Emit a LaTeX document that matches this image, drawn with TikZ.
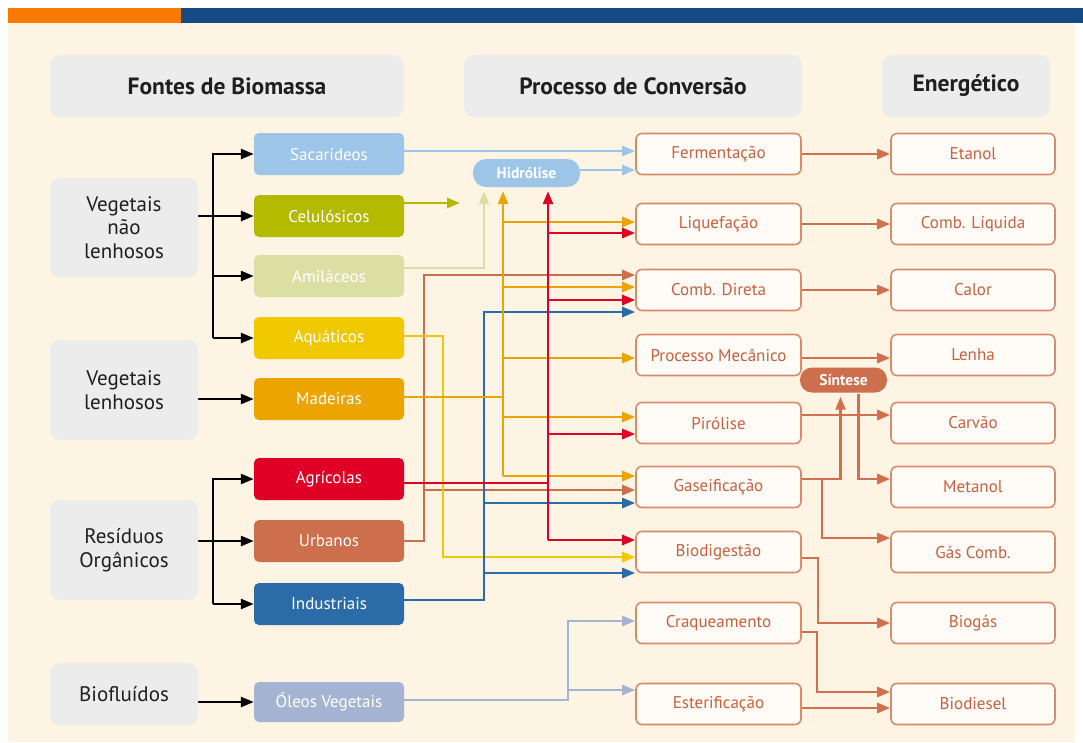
\documentclass[tikz,border=0pt]{standalone}
\usepackage{fontspec}
\setmainfont{PT Sans}
\usetikzlibrary{arrows.meta,calc}
\definecolor{cream}{HTML}{FDF4E3}
\definecolor{hdrgray}{HTML}{ECECEC}
\definecolor{barorange}{HTML}{F97A00}
\definecolor{barblue}{HTML}{164A85}
\definecolor{sacC}{HTML}{9DC5E8}
\definecolor{celC}{HTML}{B3BA00}
\definecolor{amiC}{HTML}{DCDFA3}
\definecolor{aquC}{HTML}{F0C800}
\definecolor{madC}{HTML}{ECA400}
\definecolor{agrC}{HTML}{E00025}
\definecolor{urbC}{HTML}{CD6E4D}
\definecolor{indC}{HTML}{2B6BA7}
\definecolor{oleC}{HTML}{A6B4D4}
\definecolor{procC}{HTML}{D0704E}
\definecolor{procBorder}{HTML}{D98A6A}
\definecolor{procText}{HTML}{C8603D}
\definecolor{procFill}{HTML}{FFFCF7}
\pgfdeclarelayer{bgl}
\pgfdeclarelayer{lines}
\pgfsetlayers{bgl,lines,main}
\tikzset{
  hdr/.style={fill=hdrgray, rounded corners=10pt, minimum height=62pt, font=\fontsize{23.5}{27}\selectfont\bfseries, text=black!88},
  cat/.style={fill=hdrgray, rounded corners=10pt, minimum width=148pt, align=center, font=\fontsize{21}{23.5}\selectfont, text=black!88},
  src/.style={rounded corners=5pt, minimum width=150pt, minimum height=42pt, text=white, font=\fontsize{17}{20}\selectfont},
  proc/.style={draw=procBorder, line width=1.6pt, fill=procFill, rounded corners=6pt, minimum width=165pt, minimum height=41pt, text=procText, font=\fontsize{17}{20}\selectfont},
  ener/.style={proc, minimum width=164pt},
  pill/.style={rounded corners=13pt, text=white, font=\fontsize{15.5}{18}\selectfont\bfseries},
  ln/.style={line width=2.6pt, line cap=rect},
  arr/.style={line width=2.6pt, -{Triangle[length=13pt,width=10pt]}},
}
\begin{document}
\begin{tikzpicture}[x=1pt,y=-1pt]
\useasboundingbox (0,0) rectangle (1083,742);
\begin{pgfonlayer}{bgl}
  \fill[white] (0,0) rectangle (1083,742);
  \fill[cream] (8,23) rectangle (1075,742);
  \fill[barorange] (8,8) rectangle (181,23);
  \fill[barblue] (181,8) rectangle (1083,23);
\end{pgfonlayer}

% headers
\node[hdr, minimum width=354pt] (h1) at (227,86) {Fontes de Biomassa};
\node[hdr, minimum width=338pt] (h2) at (633,86) {Processo de Conversão};
\node[hdr, minimum width=168pt] (h3) at (966,86) {Energético};

% categories
\node[cat, minimum height=99pt] (vnl) at (124,227.5) {Vegetais\\não\\lenhosos};
\node[cat, minimum height=100pt] (vl) at (124,390) {Vegetais\\lenhosos};
\node[cat, minimum height=100pt] (res) at (124,550) {Resíduos\\Orgânicos};
\node[cat, minimum height=62pt] (bfl) at (124,694) {Biofluídos};

% sources
\node[src, fill=sacC] (sac) at (329,154) {Sacarídeos};
\node[src, fill=celC] (cel) at (329,216) {Celulósicos};
\node[src, fill=amiC] (ami) at (329,276) {Amiláceos};
\node[src, fill=aquC] (aqu) at (329,338) {Aquáticos};
\node[src, fill=madC] (mad) at (329,399) {Madeiras};
\node[src, fill=agrC] (agr) at (329,479) {Agrícolas};
\node[src, fill=urbC] (urb) at (329,541) {Urbanos};
\node[src, fill=indC] (ind) at (329,604) {Industriais};
\node[src, fill=oleC, minimum height=40pt] (ole) at (329,702) {Óleos Vegetais};

% processes
\node[proc] (ferm) at (718.5,154) {Fermentação};
\node[proc] (liq) at (718.5,224) {Liquefação};
\node[proc] (comb) at (718.5,290) {Comb. Direta};
\node[proc] (mec) at (718.5,355) {Processo Mecânico};
\node[proc] (pir) at (718.5,423) {Pirólise};
\node[proc] (gas) at (718.5,487) {Gaseificação};
\node[proc] (bio) at (718.5,552) {Biodigestão};
\node[proc] (craq) at (718.5,623) {Craqueamento};
\node[proc] (est) at (718.5,704) {Esterificação};

% energy
\node[ener] (etan) at (973,154) {Etanol};
\node[ener] (cliq) at (973,224) {Comb. Líquida};
\node[ener] (calor) at (973,290) {Calor};
\node[ener] (lenha) at (973,355) {Lenha};
\node[ener] (carv) at (973,423) {Carvão};
\node[ener] (meta) at (973,487) {Metanol};
\node[ener] (gcomb) at (973,552) {Gás Comb.};
\node[ener] (biog) at (973,623) {Biogás};
\node[ener] (biod) at (973,704) {Biodiesel};

% pills
\node[pill, fill=sacC, minimum width=107pt, minimum height=28pt] (hid) at (526.5,173) {Hidrólise};
\node[pill, fill=urbC, minimum width=87pt, minimum height=25pt, rounded corners=12pt] (sin) at (843.5,380) {Síntese};

% bus coordinates
\coordinate (xK) at (213,0);
\coordinate (xU) at (424,0);
\coordinate (xY) at (443,0);
\coordinate (xB) at (484,0);
\coordinate (xO) at (503,0);
\coordinate (xR) at (548,0);
\coordinate (xL) at (568,0);
\coordinate (xG) at (822,0);
\coordinate (xBg) at (818,0);
\coordinate (xC) at (817,0);
\coordinate (celEnd) at (460,203);

\begin{pgfonlayer}{lines}
% black connectors
\draw[arr, black] (vnl.east |- cel.west) -- (cel.west);
\draw[arr, black] (aqu.west -| xK) |- (sac.west);
\draw[arr, black] (aqu.west -| xK) -- (aqu.west);
\draw[arr, black] (ami.west -| xK) -- (ami.west);
\draw[arr, black] (vl.east |- mad.west) -- (mad.west);
\draw[arr, black] (res.east |- urb.west) -- (urb.west);
\draw[arr, black] (ind.west -| xK) |- (agr.west);
\draw[arr, black] (ind.west -| xK) -- (ind.west);
\draw[arr, black] (bfl.east |- ole.west) -- (ole.west);

% sacarideos / hidrolise
\draw[arr, sacC] ($(sac.east)+(0,-3)$) -- ($(ferm.west)+(0,-3)$);
\draw[arr, sacC] ($(hid.east)+(0,-3)$) -- ($(hid.east -| ferm.west)+(0,-3)$);
% celulosicos
\draw[arr, celC] ($(cel.east)+(0,-13)$) -- (celEnd);
% amilaceos
\draw[arr, amiC, shorten >=4pt] ($(ami.east)+(0,-8)$) -| (hid.south -| xB);

% urbanos (brown)
\draw[arr, urbC] (urb.east) -| ($(comb.west -| xU)+(0,-15)$) -- ($(comb.west)+(0,-15)$);
\draw[arr, urbC] ($(gas.west -| xU)+(0,3)$) -- ($(gas.west)+(0,3)$);

% aquaticos (yellow)
\draw[arr, aquC] ($(aqu.east)+(0,-2)$) -| ($(bio.west -| xY)+(0,5)$) -- ($(bio.west)+(0,5)$);

% industriais (blue)
\draw[arr, indC] ($(ind.east)+(0,-4)$) -| ($(comb.west -| xB)+(0,22)$) -- ($(comb.west)+(0,22)$);
\draw[arr, indC] ($(gas.west -| xB)+(0,16)$) -- ($(gas.west)+(0,16)$);
\draw[arr, indC] ($(bio.west -| xB)+(0,21)$) -- ($(bio.west)+(0,21)$);

% madeiras (orange)
\draw[ln, madC] ($(mad.east)+(0,-2)$) -- ($(mad.east -| xO)+(0,-2)$);
\draw[arr, madC, shorten >=4pt] ($(gas.west -| xO)+(0,-11)$) -- (hid.south -| xO);
\draw[arr, madC] ($(gas.west -| xO)+(0,-11)$) -- ($(gas.west)+(0,-11)$);
\draw[arr, madC] ($(liq.west -| xO)+(0,-2)$) -- ($(liq.west)+(0,-2)$);
\draw[arr, madC] ($(comb.west -| xO)+(0,-3)$) -- ($(comb.west)+(0,-3)$);
\draw[arr, madC] ($(mec.west -| xO)+(0,3)$) -- ($(mec.west)+(0,3)$);
\draw[arr, madC] ($(pir.west -| xO)+(0,-6)$) -- ($(pir.west)+(0,-6)$);

% agricolas (red)
\draw[ln, agrC] ($(agr.east)+(0,4)$) -- ($(agr.east -| xR)+(0,4)$);
\draw[arr, agrC, shorten >=4pt] ($(bio.west -| xR)+(0,-12)$) -- (hid.south -| xR);
\draw[arr, agrC] ($(bio.west -| xR)+(0,-12)$) -- ($(bio.west)+(0,-12)$);
\draw[arr, agrC] ($(liq.west -| xR)+(0,9)$) -- ($(liq.west)+(0,9)$);
\draw[arr, agrC] ($(comb.west -| xR)+(0,10)$) -- ($(comb.west)+(0,10)$);
\draw[arr, agrC] ($(pir.west -| xR)+(0,11)$) -- ($(pir.west)+(0,11)$);

% oleos vegetais
\draw[arr, oleC] ($(ole.east)+(0,-2)$) -| ($(craq.west -| xL)+(0,-2)$) -- ($(craq.west)+(0,-2)$);
\draw[arr, oleC] ($(est.west -| xL)+(0,-14)$) -- ($(est.west)+(0,-14)$);

% process -> energy
\draw[arr, procC] (ferm.east) -- (etan.west);
\draw[arr, procC] (liq.east) -- (cliq.west);
\draw[arr, procC] (comb.east) -- (calor.west);
\draw[arr, procC] ($(mec.east)+(0,3)$) -- ($(lenha.west)+(0,3)$);
\draw[arr, procC] ($(pir.east)+(0,-8)$) -- ($(carv.west)+(0,-8)$);
\draw[arr, procC, shorten >=4pt] ($(gas.east)+(0,-8)$) -| ([xshift=-3pt]sin.south);
\draw[arr, procC] ($(gas.east -| xG)+(0,-8)$) |- ($(gcomb.west)+(0,-14)$);
\draw[arr, procC] ([xshift=15pt,yshift=-1pt]sin.south) |- ($(meta.west)+(0,-8)$);
\draw[arr, procC] ($(bio.east)+(0,6)$) -| (biog.west -| xBg) -- (biog.west);
\draw[arr, procC] ($(craq.east)+(0,9)$) -| ($(biod.west -| xC)+(0,-12)$) -- ($(biod.west)+(0,-12)$);
\draw[arr, procC] ($(est.east)+(0,4)$) -- ($(biod.west)+(0,4)$);
\end{pgfonlayer}
\end{tikzpicture}
\end{document}
